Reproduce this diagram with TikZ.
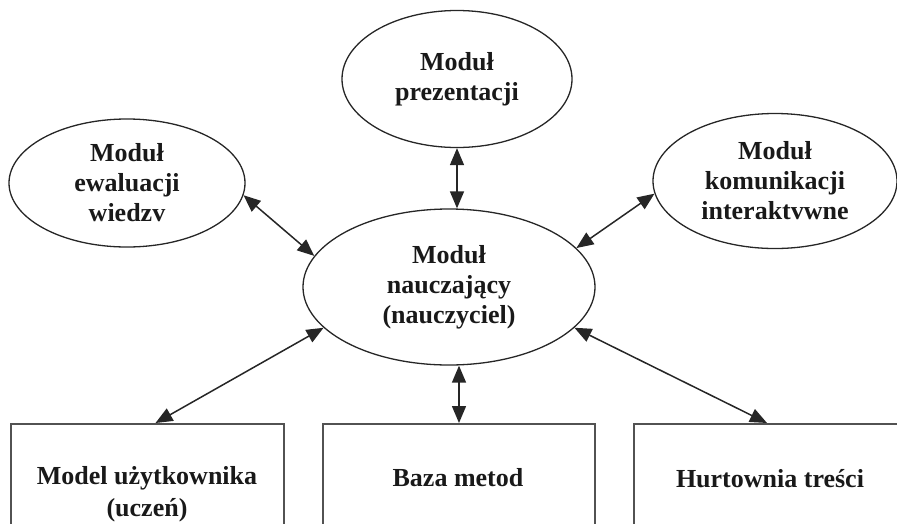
\documentclass[tikz,border=0pt]{standalone}
\usepackage{fontspec}
\setmainfont{Liberation Serif}
\usetikzlibrary{shapes.geometric,arrows.meta}
\begin{document}
\begin{tikzpicture}[x=1pt,y=-1pt,
  mod/.style={ellipse,draw=black!85,line width=1.3pt,inner sep=0pt,align=center,
    font=\fontsize{26}{30}\selectfont\bfseries,text=black!90},
  box/.style={rectangle,draw=black!68,line width=2pt,inner sep=0pt,anchor=north west},
  lbl/.style={align=center,font=\fontsize{26}{32}\selectfont\bfseries,text=black!90},
  arr/.style={{Triangle[length=17pt,width=14pt]}-{Triangle[length=17pt,width=14pt]},
    line width=1.5pt,draw=black!85}]
\useasboundingbox (0,0) rectangle (897,523);
\node[mod,minimum width=230pt,minimum height=137pt] (prez) at (457,79) {Moduł\\prezentacji};
\node[mod,minimum width=236pt,minimum height=128pt] (ewal) at (127,183) {Moduł\\ewaluacji\\wiedzv};
\node[mod,minimum width=244pt,minimum height=135pt] (kom) at (775,181) {Moduł\\komunikacji\\interaktvwne};
\node[mod,minimum width=292pt,minimum height=156pt] (mid) at (449,287) {Moduł\\nauczający\\(nauczyciel)};
\node[box,minimum width=273pt,minimum height=130pt] (b1) at (10,423) {};
\node[box,minimum width=272pt,minimum height=130pt] (b2) at (322,423) {};
\node[box,minimum width=280pt,minimum height=130pt] (b3) at (633,423) {};
\node[lbl] (t1) at (147,494) {Model użytkownika\\(uczeń)};
\node[lbl] (t2) at (458,478) {Baza metod};
\node[lbl] (t3) at (770,479) {Hurtownia treści};
\draw[arr] (prez.south) -- (prez.south |- mid.north);
\draw[arr] (ewal.-6) -- (mid.167);
\draw[arr] (kom.186) -- (mid.17);
\draw[arr] ([xshift=8pt]b1.north) -- (mid.198);
\draw[arr] (b2.north) -- (b2.north |- mid.south);
\draw[arr] ([xshift=-7pt]b3.north) -- (mid.-18);
\end{tikzpicture}
\end{document}
